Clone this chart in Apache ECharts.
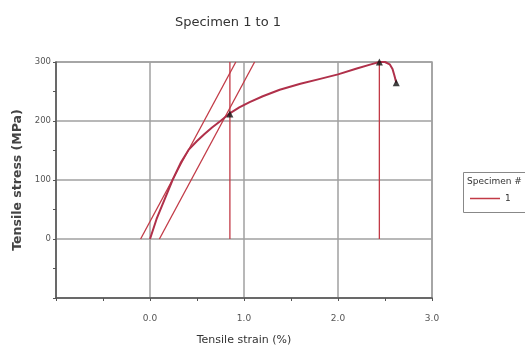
<!DOCTYPE html>
<html><head><meta charset="utf-8">
<script src="https://cdn.jsdelivr.net/npm/echarts@6/dist/echarts.min.js"></script>
<style>html,body{margin:0;padding:0;background:#fff}#c{width:525px;height:356px}</style>
</head><body><div id="c"></div>
<script>
// Main stress-strain curve (strain %, stress MPa)
const curveStrain = [0, 0.07, 0.15, 0.24, 0.33, 0.41, 0.50, 0.58, 0.66, 0.75, 0.84, 0.95, 1.06, 1.20, 1.38, 1.60, 1.80, 2.00, 2.20, 2.35, 2.44, 2.50, 2.55, 2.58, 2.60, 2.62];
const curveStress = [0, 34, 65, 100, 130, 151, 166, 178, 189, 200, 212, 223, 232, 242, 253, 263, 271, 279, 289, 296, 300, 300, 296, 288, 277, 265];
// Modulus line and offset line
const modulusStrain = [-0.10, 0.913];
const modulusStress = [0, 300];
const offsetStrain = [0.10, 1.113];
const offsetStress = [0, 300];
// Vertical markers (yield, max)
const yieldStrain = [0.85, 0.85];
const yieldStress = [0, 300];
const maxStrain = [2.44, 2.44];
const maxStress = [0, 300];
// Marked points
const markStrain = [0.85, 2.44, 2.62];
const markStress = [212, 300, 265];
const xTickLabels = ['0.0', '1.0', '2.0', '3.0'];
const yTickLabels = ['0', '100', '200', '300'];

const zip = (a, b) => a.map((v, i) => [v, b[i]]);
const red = '#c23a46';
const font = 'DejaVu Sans';

const chart = echarts.init(document.getElementById('c'));
chart.setOption({
  animation: false,
  backgroundColor: '#fff',
  title: {
    text: 'Specimen 1 to 1', left: 223, top: 11, textAlign: 'center',
    textStyle: { fontFamily: font, fontSize: 13, fontWeight: 'normal', color: '#333' }
  },
  grid: { left: 56, right: 93, top: 62, bottom: 58, show: true, borderColor: '#a0a0a0', borderWidth: 1.5 },
  legend: {
    data: ['1'], left: 470, top: 194, icon: 'rect', itemWidth: 30, itemHeight: 1.5,
    textStyle: { fontFamily: font, fontSize: 9, color: '#333' }, padding: 0
  },
  graphic: [
    { type: 'rect', shape: { x: 463.5, y: 172.5, width: 70, height: 40 }, style: { fill: 'none', stroke: '#888', lineWidth: 1 } },
    { type: 'text', x: 467, y: 177, style: { text: 'Specimen #', font: '9px DejaVu Sans', fill: '#333' } }
  ],
  xAxis: {
    type: 'value', min: -1, max: 3, interval: 1,
    name: 'Tensile strain (%)', nameLocation: 'middle', nameGap: 37,
    nameTextStyle: { fontFamily: font, fontSize: 11, color: '#333' },
    axisLine: { onZero: false, lineStyle: { color: '#555', width: 1.5 } },
    axisTick: { show: true, length: 3, lineStyle: { color: '#555' } },
    minorTick: { show: true, splitNumber: 2, length: 3, lineStyle: { color: '#555' } },
    axisLabel: {
      fontFamily: font, fontSize: 9, color: '#555', margin: 16,
      formatter: v => { const s = v.toFixed(1); return xTickLabels.includes(s) ? s : ''; }
    },
    splitLine: { show: true, lineStyle: { color: '#a0a0a0', width: 1.5 } }
  },
  yAxis: {
    type: 'value', min: -100, max: 300, interval: 100,
    name: 'Tensile stress (MPa)', nameLocation: 'middle', nameGap: 28,
    nameTextStyle: { fontFamily: font, fontSize: 12.5, fontWeight: 'bold', color: '#444' },
    axisLine: { show: true, onZero: false, lineStyle: { color: '#555', width: 1.5 } },
    axisTick: { show: true, length: 3, lineStyle: { color: '#555' } },
    minorTick: { show: true, splitNumber: 2, length: 3, lineStyle: { color: '#555' } },
    axisLabel: {
      fontFamily: font, fontSize: 8.5, color: '#555', margin: 5,
      formatter: v => { const s = String(v); return yTickLabels.includes(s) ? s : ''; }
    },
    splitLine: { show: true, lineStyle: { color: '#a0a0a0', width: 1.5 } }
  },
  series: [
    { name: 'modulus', type: 'line', data: zip(modulusStrain, modulusStress), showSymbol: false, lineStyle: { color: red, width: 1.3 }, z: 3 },
    { name: 'offset', type: 'line', data: zip(offsetStrain, offsetStress), showSymbol: false, lineStyle: { color: red, width: 1.3 }, z: 3 },
    { name: 'yield', type: 'line', data: zip(yieldStrain, yieldStress), showSymbol: false, lineStyle: { color: red, width: 1.3 }, z: 3 },
    { name: 'max', type: 'line', data: zip(maxStrain, maxStress), showSymbol: false, lineStyle: { color: red, width: 1.3 }, z: 3 },
    { name: '1', type: 'line', data: zip(curveStrain, curveStress), showSymbol: false, smooth: false, itemStyle: { color: red }, lineStyle: { color: '#b0304a', width: 2 }, z: 4 },
    { name: 'marks', type: 'scatter', data: zip(markStrain, markStress), symbol: 'triangle', symbolSize: 7, itemStyle: { color: '#111' }, z: 5 }
  ]
});
</script>
</body></html>
